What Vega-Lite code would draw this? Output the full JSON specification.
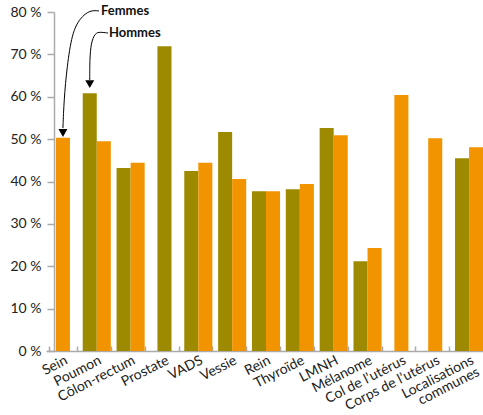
{
  "$schema": "https://vega.github.io/schema/vega-lite/v6.json",
  "autosize": "none",
  "width": 429,
  "height": 339,
  "padding": {"left": 54, "top": 12, "right": 0, "bottom": 64},
  "config": {"view": {"stroke": null}, "font": "Lato"},
  "datasets": {
    "barres": [
      {"cat": "Sein", "sexe": "Femmes", "val": 50.3},
      {"cat": "Poumon", "sexe": "Hommes", "val": 60.8},
      {"cat": "Poumon", "sexe": "Femmes", "val": 49.5},
      {"cat": "Côlon-rectum", "sexe": "Hommes", "val": 43.2},
      {"cat": "Côlon-rectum", "sexe": "Femmes", "val": 44.4},
      {"cat": "Prostate", "sexe": "Hommes", "val": 71.9},
      {"cat": "VADS", "sexe": "Hommes", "val": 42.5},
      {"cat": "VADS", "sexe": "Femmes", "val": 44.4},
      {"cat": "Vessie", "sexe": "Hommes", "val": 51.7},
      {"cat": "Vessie", "sexe": "Femmes", "val": 40.6},
      {"cat": "Rein", "sexe": "Hommes", "val": 37.7},
      {"cat": "Rein", "sexe": "Femmes", "val": 37.7},
      {"cat": "Thyroïde", "sexe": "Hommes", "val": 38.2},
      {"cat": "Thyroïde", "sexe": "Femmes", "val": 39.4},
      {"cat": "LMNH", "sexe": "Hommes", "val": 52.6},
      {"cat": "LMNH", "sexe": "Femmes", "val": 50.9},
      {"cat": "Mélanome", "sexe": "Hommes", "val": 21.2},
      {"cat": "Mélanome", "sexe": "Femmes", "val": 24.3},
      {"cat": "Col de l’utérus", "sexe": "Femmes", "val": 60.4},
      {"cat": "Corps de l’utérus", "sexe": "Femmes", "val": 50.2},
      {"cat": "Localisations communes", "sexe": "Hommes", "val": 45.5},
      {"cat": "Localisations communes", "sexe": "Femmes", "val": 48.1}
    ],
    "fleches": [
      {"serie": "Femmes", "ordre": 0, "u": 1.566, "y": 80.24},
      {"serie": "Femmes", "ordre": 1, "u": 1.30, "y": 80.47},
      {"serie": "Femmes", "ordre": 2, "u": 1.004, "y": 78.58},
      {"serie": "Femmes", "ordre": 3, "u": 0.768, "y": 75.04},
      {"serie": "Femmes", "ordre": 4, "u": 0.62, "y": 67.02},
      {"serie": "Femmes", "ordre": 5, "u": 0.532, "y": 59.23},
      {"serie": "Femmes", "ordre": 6, "u": 0.5, "y": 52.6},
      {"serie": "Hommes", "ordre": 0, "u": 1.832, "y": 75.04},
      {"serie": "Hommes", "ordre": 1, "u": 1.595, "y": 75.28},
      {"serie": "Hommes", "ordre": 2, "u": 1.448, "y": 75.04},
      {"serie": "Hommes", "ordre": 3, "u": 1.329, "y": 72.68},
      {"serie": "Hommes", "ordre": 4, "u": 1.2925, "y": 68.67},
      {"serie": "Hommes", "ordre": 5, "u": 1.2925, "y": 63.95}
    ],
    "tetes": [
      {"serie": "Femmes", "u": 0.5, "y": 51.45},
      {"serie": "Hommes", "u": 1.2925, "y": 63.0}
    ],
    "etiquettes": [
      {"serie": "Femmes", "u": 1.625, "y": 80.2},
      {"serie": "Hommes", "u": 1.86, "y": 75.0}
    ]
  },
  "layer": [
    {
      "data": {"name": "barres"},
      "transform": [
        {"joinaggregate": [{"op": "count", "as": "n"}], "groupby": ["cat"]}
      ],
      "encoding": {
        "x": {
          "field": "cat",
          "type": "nominal",
          "sort": ["Sein", "Poumon", "Côlon-rectum", "Prostate", "VADS", "Vessie", "Rein", "Thyroïde", "LMNH", "Mélanome", "Col de l’utérus", "Corps de l’utérus", "Localisations communes"],
          "scale": {"range": [-8, 432], "paddingInner": 0.17, "paddingOuter": 0.085},
          "axis": {
            "title": null,
            "labelAngle": -27,
            "labelAlign": "right",
            "labelBaseline": "top",
            "labelFontSize": 14,
            "labelColor": "#222222",
            "labelPadding": 7,
            "labelOffset": 0,
            "labelLineHeight": 13,
            "labelExpr": "datum.label == 'Localisations communes' ? ['Localisations', 'communes'] : datum.label",
            "domainColor": "#aaaaaa",
            "domainWidth": 1.5,
            "tickColor": "#aaaaaa",
            "tickWidth": 1.5,
            "tickSize": -5,
            "tickBand": "extent"
          }
        },
        "y": {
          "field": "val",
          "type": "quantitative",
          "title": null,
          "scale": {"domain": [0, 80], "nice": false},
          "axis": {
            "title": null,
            "values": [0, 10, 20, 30, 40, 50, 60, 70, 80],
            "labelExpr": "datum.value + ' %'",
            "labelFontSize": 14,
            "labelColor": "#222222",
            "labelPadding": 6,
            "tickSize": 7,
            "tickColor": "#aaaaaa",
            "tickWidth": 1.5,
            "domainColor": "#aaaaaa",
            "domainWidth": 1.5,
            "grid": false
          }
        },
        "color": {
          "field": "sexe",
          "type": "nominal",
          "scale": {"domain": ["Hommes", "Femmes"], "range": ["#9e8a00", "#f29300"]},
          "legend": null
        }
      },
      "layer": [
        {
          "transform": [{"filter": "datum.n == 2"}],
          "mark": "bar",
          "encoding": {
            "xOffset": {"field": "sexe", "type": "nominal", "sort": ["Hommes", "Femmes"], "scale": {"paddingInner": 0, "paddingOuter": 0}}
          }
        },
        {
          "transform": [{"filter": "datum.n == 1"}],
          "mark": {"type": "bar", "width": {"band": 0.5}}
        }
      ]
    },
    {
      "layer": [
        {
          "data": {"name": "fleches"},
          "mark": {"type": "line", "interpolate": "basis", "color": "#000000", "strokeWidth": 1},
          "encoding": {
            "x": {"field": "u", "type": "quantitative", "scale": {"domain": [0, 13], "range": [-8, 432]}, "axis": null},
            "y": {"field": "y", "type": "quantitative", "title": null},
            "detail": {"field": "serie"},
            "order": {"field": "ordre", "type": "quantitative"}
          }
        },
        {
          "data": {"name": "tetes"},
          "mark": {"type": "point", "shape": "triangle-down", "filled": true, "color": "#000000", "size": 81, "opacity": 1},
          "encoding": {
            "x": {"field": "u", "type": "quantitative", "scale": {"domain": [0, 13], "range": [-8, 432]}, "axis": null},
            "y": {"field": "y", "type": "quantitative", "title": null}
          }
        },
        {
          "data": {"name": "etiquettes"},
          "mark": {"type": "text", "align": "left", "baseline": "middle", "fontWeight": "bold", "fontSize": 13, "color": "#111111"},
          "encoding": {
            "x": {"field": "u", "type": "quantitative", "scale": {"domain": [0, 13], "range": [-8, 432]}, "axis": null},
            "y": {"field": "y", "type": "quantitative", "title": null},
            "text": {"field": "serie"}
          }
        }
      ]
    }
  ],
  "resolve": {"scale": {"x": "independent"}, "axis": {"x": "independent"}}
}
